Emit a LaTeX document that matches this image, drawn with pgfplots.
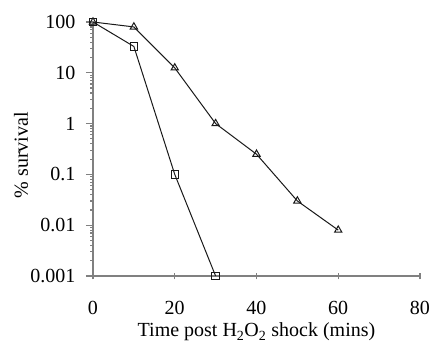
\documentclass[border=0pt]{standalone}
\usepackage{pgfplots}
\pgfplotsset{compat=1.18}
\usepackage{fontspec}
\setmainfont{Liberation Serif}
\begin{document}
\begin{tikzpicture}
\begin{axis}[
  name=ax,
  width=327bp, height=254bp, scale only axis,
  xmin=0, xmax=80, ymin=0.001, ymax=100,
  ymode=log,
  axis lines*=left,
  axis line style={color=gray, line width=1.2bp},
  xtick={0,20,40,60,80},
  ytick={0.001,0.01,0.1,1,10,100},
  yticklabels={0.001,0.01,0.1,1,10,100},
  minor tick num=0,
  tick style={color=gray, line width=1.2bp},
  major tick length=7bp,
  xtick align=center,
  ytick align=outside,
  tick label style={font=\fontsize{20bp}{24bp}\selectfont, black},
  yticklabel style={xshift=-7bp},
  xticklabel style={yshift=-18bp},
  /pgf/number format/assume math mode=true,
  xlabel={Time post H\textsubscript{2}O\textsubscript{2} shock (mins)},
  ylabel={\% survival},
  label style={font=\fontsize{20bp}{24bp}\selectfont},
  xlabel style={at={(axis description cs:0.5,-0.240)}, anchor=base},
  ylabel style={at={(axis description cs:-0.22,0.476)}, anchor=center},
  clip=false,
]
\addplot[black!90, line width=1bp, mark=triangle, mark size=4.2bp, mark options={solid, fill=white}]
  coordinates {(0,100) (10,80) (20,12.5) (30,1) (40,0.25) (50,0.03) (60,0.008)};
\addplot[black!90, line width=1bp, mark=square, mark size=3.7bp, mark options={solid, fill=white}]
  coordinates {(0,100) (10,33) (20,0.1) (30,0.001)};
\end{axis}
\pgfresetboundingbox
\path[use as bounding box] ([xshift=-93bp,yshift=-68bp]ax.south west) rectangle ([xshift=12bp,yshift=22bp]ax.north east);
\end{tikzpicture}
\end{document}
